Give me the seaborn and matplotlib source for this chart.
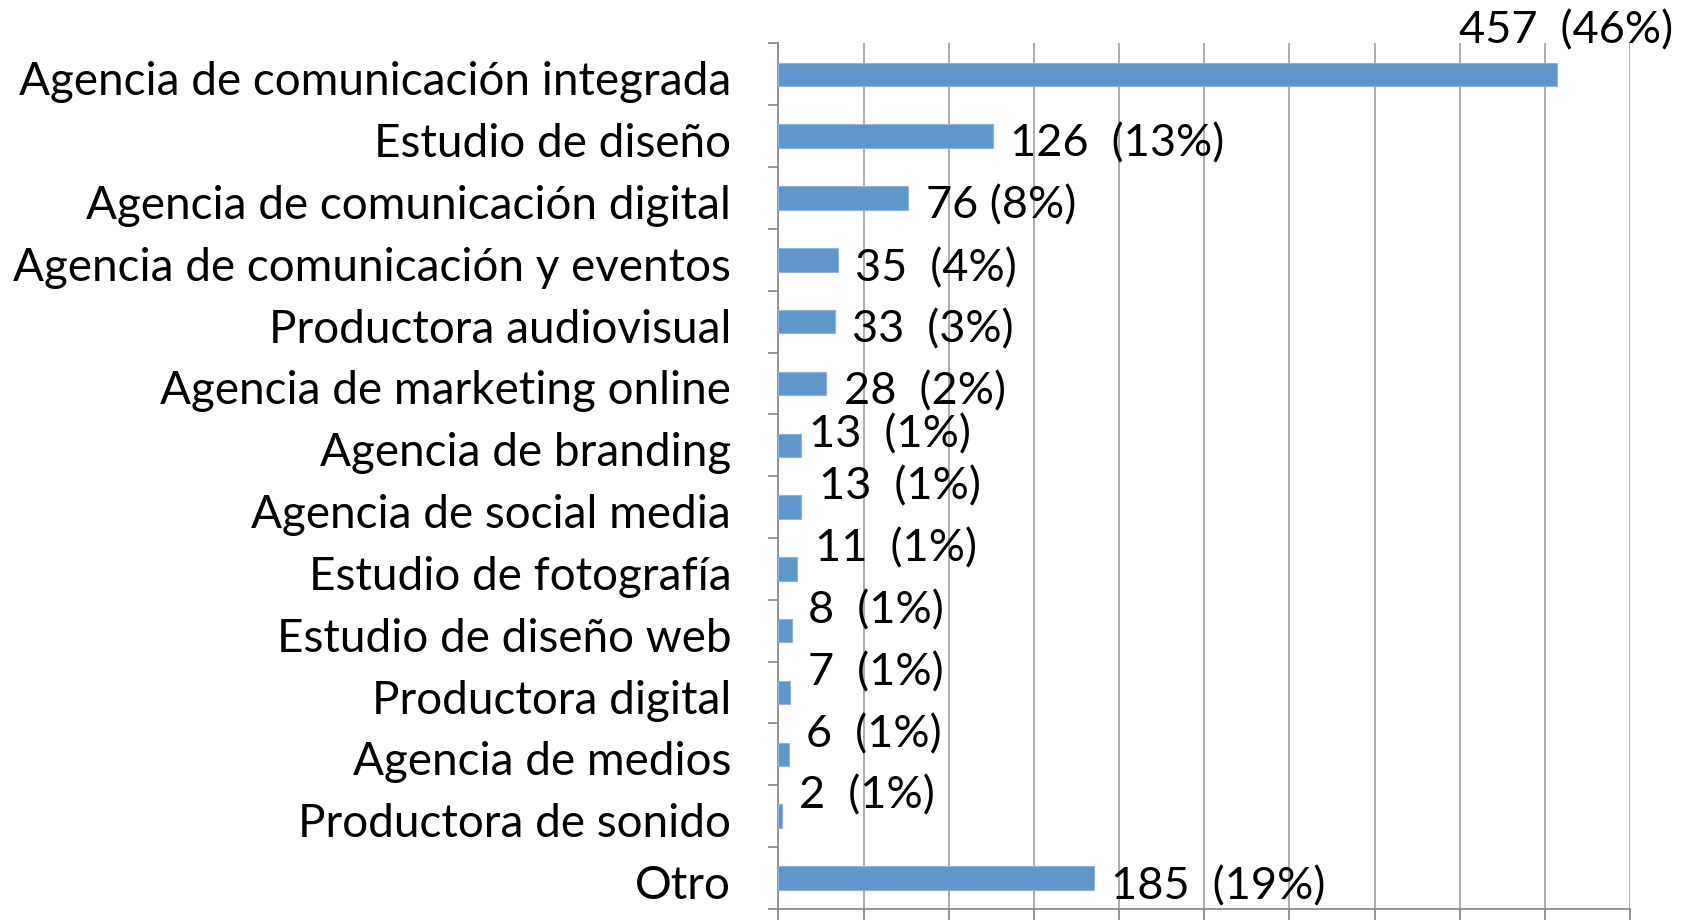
import matplotlib
matplotlib.use("Agg")
import matplotlib.pyplot as plt
import matplotlib.transforms as mtransforms
import seaborn as sns
import numpy as np
import pandas as pd
from matplotlib.ticker import MultipleLocator, FixedLocator

categories = [
    "Agencia de comunicación integrada",
    "Estudio de diseño",
    "Agencia de comunicación digital",
    "Agencia de comunicación y eventos",
    "Productora audiovisual",
    "Agencia de marketing online",
    "Agencia de branding",
    "Agencia de social media",
    "Estudio de fotografía",
    "Estudio de diseño web",
    "Productora digital",
    "Agencia de medios",
    "Productora de sonido",
    "Otro",
]
counts = [457, 126, 76, 35, 33, 28, 13, 13, 11, 8, 7, 6, 2, 185]
labels = ["457  (46%)", "126  (13%)", "76 (8%)", "35  (4%)", "33  (3%)", "28  (2%)",
          "13  (1%)", "13  (1%)", "11  (1%)", "8  (1%)", "7  (1%)", "6  (1%)",
          "2  (1%)", "185  (19%)"]

# label offsets from bar end, in pixels (dx, dy)
offsets = [(-98, 43), (17, -8), (18, -8), (17, -9), (17, -8), (18, -8),
           (8, 10), (18, 20), (18, 20), (16, 20), (18, 20), (17, 20),
           (17, 20), (17, -9)]

bar_color = "#6096CA"
grid_color = "#A6A6A6"
axis_color = "#8C8C8C"

sns.set_style("white")
plt.rcParams["font.family"] = ["Lato", "DejaVu Sans"]

df = pd.DataFrame({"cat": categories, "n": counts})

fig = plt.figure(figsize=(16.86, 9.24), dpi=100)
ax = fig.add_axes([0.4617, 0.0163, 0.9668 - 0.4617, 0.953 - 0.0163])

sns.barplot(data=df, y="cat", x="n", orient="h", color=bar_color, width=0.38,
            saturation=1, edgecolor="#8DB4DE", linewidth=0.8, ax=ax, zorder=3)

ax.set_xlim(0, 500)
ax.set_ylim(13.5, -0.5)
ax.xaxis.set_major_locator(MultipleLocator(50))
ax.set_xticklabels([])
ax.grid(axis="x", color=grid_color, linewidth=1.3, zorder=0)
ax.set_axisbelow(True)
ax.set_xlabel("")
ax.set_ylabel("")

ax.yaxis.set_minor_locator(FixedLocator(np.arange(-0.5, 14, 1)))
ax.tick_params(axis="y", which="major", length=0, pad=34, labelsize=33, labelcolor="black")
ax.tick_params(axis="y", which="minor", length=7, width=1.3, color=axis_color, left=True)
ax.tick_params(axis="x", which="major", length=8, width=1.3, color=axis_color, bottom=True)

# category labels sit a little below the bar centre
shift = mtransforms.ScaledTranslation(0, -4 / 100, fig.dpi_scale_trans)
for t in ax.get_yticklabels():
    t.set_transform(t.get_transform() + shift)

for s in ["top", "right"]:
    ax.spines[s].set_visible(False)
for s in ["left", "bottom"]:
    ax.spines[s].set_color(axis_color)
    ax.spines[s].set_linewidth(1.3)

for i, (v, lab) in enumerate(zip(counts, labels)):
    dx, dy = offsets[i]
    ax.annotate(lab, xy=(v, i), xytext=(dx, dy), textcoords="offset pixels",
                ha="left", va="center", fontsize=32.5, color="black",
                annotation_clip=False)

fig.savefig("out.png", dpi=100)
